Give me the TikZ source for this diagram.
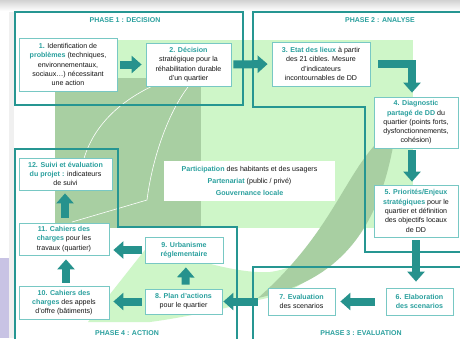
\documentclass[tikz,border=0pt]{standalone}
\usepackage{fontspec}
\setmainfont{Liberation Sans}
\usetikzlibrary{arrows.meta}
\definecolor{tealtxt}{RGB}{42,160,158}
\definecolor{arrc}{RGB}{38,146,141}
\definecolor{phasec}{RGB}{38,150,146}
\definecolor{boxc}{RGB}{120,200,196}
\definecolor{lightg}{RGB}{206,246,200}
\definecolor{darkg}{RGB}{168,207,162}
\definecolor{txtc}{RGB}{20,20,20}
\definecolor{lavc}{RGB}{200,195,228}
\newcommand{\bxfont}{\fontsize{7.1}{9.3}\selectfont}
\newcommand{\hl}[1]{{\bfseries\color{tealtxt}#1}}
\tikzset{
  bx/.style={draw=boxc, line width=0.8pt, fill=white, inner sep=0pt, align=center, font=\bxfont, text=txtc},
  phaseline/.style={draw=phasec, line width=1.8pt},
  phasetitle/.style={font=\fontsize{7}{8}\selectfont\bfseries, text=tealtxt, inner sep=0pt},
  barrow/.style={draw=arrc, line width=8pt, -{Triangle[width=17pt,length=10pt]}},
}
\begin{document}
\begin{tikzpicture}[x=1pt,y=-1pt]
\useasboundingbox (0,0) rectangle (460,338);
\fill[white] (0,0) rectangle (460,338);
% top shadow
\shade[top color=gray!35, bottom color=white] (0,0) rectangle (460,11);
% left decoration
\fill[gray!12] (9,12) rectangle (14,338);
\fill[lavc] (0,258) rectangle (9,338);
% background shapes
\fill[lightg] (55,40) rectangle (413,228);
\fill[darkg] (55,78) rectangle (201,228);
\draw[white, line width=0.6pt] (80,182) .. controls (82,140) and (110,100) .. (172,78);
\draw[white, line width=0.6pt] (192,82) .. controls (168,110) and (152,160) .. (147,200) -- (72,222);
\fill[lightg] (88,322) -- (148,246) .. controls (190,258) and (235,274) .. (270,272) .. controls (300,268) and (322,250) .. (334,228) -- (345,228) .. controls (330,270) and (300,292) .. (258,300) .. controls (220,310) and (180,318) .. (150,322) -- cycle;
\fill[darkg] (385,135) .. controls (345,170) and (335,230) .. (258,298) .. controls (340,280) and (380,230) .. (395,135) -- cycle;
% phase outlines
\draw[phaseline] (15,12) rectangle (243,105);
\draw[phaseline] (466,12) -- (253,12) -- (253,107) -- (365,107) -- (365,252) -- (466,252);
\draw[phaseline] (466,267) -- (253,267) -- (253,345);
\draw[phaseline] (237,345) -- (237,227) -- (118,227) -- (118,149) -- (15,149) -- (15,345);
% phase titles
\node[phasetitle] (t1) at (125,20) {PHASE 1 : DECISION};
\node[phasetitle] (t2) at (380,20) {PHASE 2 : ANALYSE};
\node[phasetitle] (t3) at (361,333) {PHASE 3 : EVALUATION};
\node[phasetitle] (t4) at (127,333) {PHASE 4 : ACTION};
% boxes
\node[bx, minimum width=98pt, minimum height=53pt] (b1) at (68,64.5) {\hl{1.} Identification de\\\hl{problèmes} (techniques,\\environnementaux,\\sociaux…) nécessitant\\une action};
\node[bx, minimum width=85pt, minimum height=43pt] (b2) at (188.5,64.5) {\hl{2. Décision}\\stratégique pour la\\réhabilitation durable\\d'un quartier};
\node[bx, minimum width=98pt, minimum height=44pt] (b3) at (321,64) {\hl{3. Etat des lieux} à partir\\des 21 cibles. Mesure\\d'indicateurs\\incontournables de DD};
\node[bx, minimum width=84pt, minimum height=51pt] (b4) at (416,122.5) {\hl{4. Diagnostic}\\\hl{partagé de DD} du\\quartier (points forts,\\dysfonctionnements,\\cohésion)};
\node[bx, minimum width=84pt, minimum height=52pt] (b5) at (416,211) {\hl{5. Priorités/Enjeux}\\\hl{stratégiques} pour le\\quartier et définition\\des objectifs locaux\\de DD};
\node[bx, minimum width=67pt, minimum height=27pt] (b6) at (419.5,301.5) {\hl{6. Elaboration}\\\hl{des scenarios}};
\node[bx, minimum width=67pt, minimum height=27pt] (b7) at (301.5,301.5) {\hl{7. Evaluation}\\des scenarios};
\node[bx, minimum width=77pt, minimum height=25pt] (b8) at (183.5,301.5) {\hl{8. Plan d'actions}\\pour le quartier};
\node[bx, minimum width=78pt, minimum height=26pt] (b9) at (184,250) {\hl{9. Urbanisme}\\\hl{réglementaire}};
\node[bx, minimum width=90pt, minimum height=33pt] (b10) at (64,302.5) {\hl{10. Cahiers des}\\\hl{charges} des appels\\d'offre (bâtiments)};
\node[bx, minimum width=90pt, minimum height=32pt] (b11) at (64,239) {\hl{11. Cahiers des}\\\hl{charges} pour les\\travaux (quartier)};
\node[bx, minimum width=93pt, minimum height=32pt] (b12) at (65.5,174) {\hl{12. Suivi et évaluation}\\\hl{du projet :} indicateurs\\de suivi};
\node[fill=white, inner sep=0pt, minimum width=171pt, minimum height=40pt, align=center, text=txtc, font=\fontsize{7.1}{11.8}\selectfont] (ctr) at (249.5,181) {\hl{Participation} des habitants et des usagers\\\hl{Partenariat} (public / privé)\\\hl{Gouvernance locale}};
% arrows
\draw[barrow, shorten <=3pt, shorten >=4pt] (b1.east) -- (b2.west);
\draw[barrow, shorten <=2pt, shorten >=4pt] (b2.east) -- (b3.west);
\draw[barrow] ([xshift=8pt]b3.east) -| ([xshift=-4pt,yshift=4pt]b4.north);
\draw[barrow, shorten <=2pt, shorten >=3pt] ([xshift=-4pt]b4.south) -- ([xshift=-4pt]b5.north);
\draw[barrow, shorten <=3pt, shorten >=6pt] (b5.south) -- (b5.south |- b6.north);
\draw[barrow, shorten <=11pt, shorten >=5pt] (b6.west) -- (b7.east);
\draw[barrow, shorten <=10pt, shorten >=1pt] (b7.west) -- (b8.east);
\draw[barrow, shorten <=4pt, shorten >=4pt] ([xshift=2pt]b8.north) -- ([xshift=2pt]b9.south);
\draw[barrow, shorten <=3pt, shorten >=4pt] (b9.west) -- (b9.west -| b11.east);
\draw[barrow, shorten <=3pt, shorten >=4pt] (b8.west) -- (b8.west -| b10.east);
\draw[barrow, shorten <=3pt, shorten >=4pt] ([xshift=2pt]b10.north) -- ([xshift=2pt]b11.south);
\draw[barrow, shorten <=5pt, shorten >=3pt] ([xshift=1pt]b11.north) -- ([xshift=1pt]b11.north |- b12.south);
\end{tikzpicture}
\end{document}
